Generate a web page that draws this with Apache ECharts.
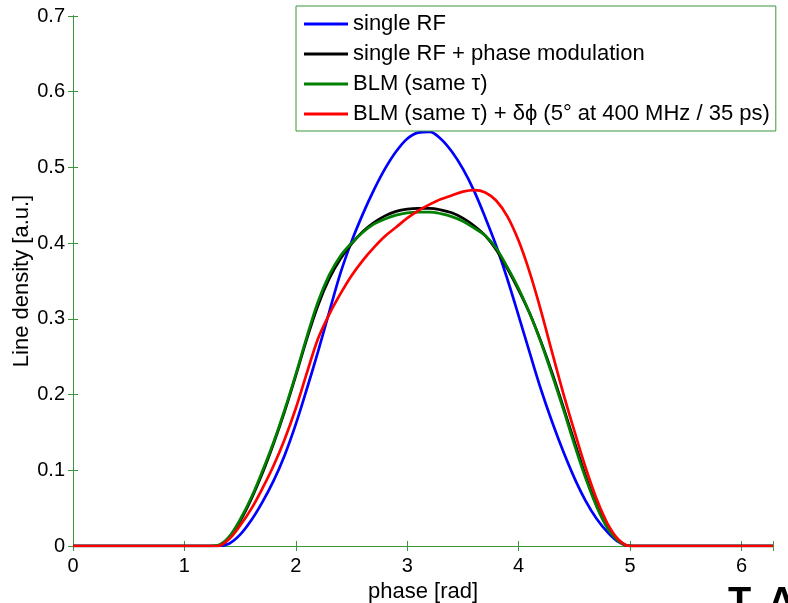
<!DOCTYPE html>
<html>
<head>
<meta charset="utf-8">
<script src="https://cdn.jsdelivr.net/npm/echarts@6/dist/echarts.min.js"></script>
<style>
html,body{margin:0;padding:0;background:#fff;}
#chart{width:788px;height:603px;}
</style>
</head>
<body>
<div id="chart"></div>
<script>
// ---- data ----
var phase = [0, 1.2, 1.3, 1.4, 1.5, 1.6, 1.7, 1.8, 1.9, 2.0, 2.1, 2.2, 2.3, 2.4, 2.5, 2.6, 2.7, 2.8, 2.9,
  3.0, 3.1, 3.2, 3.3, 3.4, 3.5, 3.6, 3.7, 3.8, 3.9, 4.0, 4.1, 4.2, 4.3, 4.4, 4.5, 4.6, 4.7, 4.8, 4.9, 5.0, 5.1, 6.2832];

var singleRF = [0, 0, 0, 0.003, 0.015, 0.034, 0.058, 0.086, 0.120, 0.161, 0.208, 0.257, 0.309, 0.360, 0.402,
  0.438, 0.470, 0.498, 0.521, 0.538, 0.546, 0.547, 0.538, 0.521, 0.498, 0.469, 0.434, 0.396, 0.352, 0.304,
  0.255, 0.207, 0.164, 0.125, 0.090, 0.060, 0.036, 0.018, 0.005, 0, 0, 0];

var singleRFPhaseMod = [0, 0, 0, 0.011, 0.033, 0.062, 0.096, 0.135, 0.178, 0.225, 0.274, 0.318, 0.353, 0.379,
  0.399, 0.415, 0.427, 0.436, 0.442, 0.445, 0.446, 0.446, 0.444, 0.440, 0.433, 0.423, 0.410, 0.391, 0.366,
  0.338, 0.307, 0.270, 0.229, 0.184, 0.138, 0.093, 0.054, 0.025, 0.007, 0, 0, 0];

var blmSameTau = [0, 0, 0.001, 0.012, 0.035, 0.064, 0.099, 0.137, 0.180, 0.227, 0.277, 0.323, 0.358, 0.383,
  0.400, 0.414, 0.425, 0.432, 0.437, 0.440, 0.441, 0.441, 0.439, 0.435, 0.429, 0.420, 0.410, 0.393, 0.368,
  0.340, 0.307, 0.269, 0.226, 0.181, 0.134, 0.090, 0.052, 0.023, 0.006, 0, 0, 0];

var blmSameTauDphi = [0, 0, 0, 0.009, 0.027, 0.049, 0.076, 0.106, 0.141, 0.182, 0.229, 0.274, 0.306, 0.333,
  0.357, 0.377, 0.394, 0.409, 0.421, 0.433, 0.443, 0.451, 0.458, 0.463, 0.468, 0.470, 0.467, 0.456, 0.435,
  0.403, 0.361, 0.311, 0.256, 0.202, 0.152, 0.104, 0.062, 0.029, 0.008, 0, 0, 0];

var seriesNames = ['single RF', 'single RF + phase modulation', 'BLM (same \u03c4)',
  'BLM (same \u03c4) + \u03b4\u03d5 (5\u00b0 at 400 MHz / 35 ps)'];
var seriesColors = ['#0000ff', '#000000', '#008000', '#ff0000'];
var xTicks = [0, 1, 2, 3, 4, 5, 6];

// ---- build chart ----
function pairs(ys) { return phase.map(function (x, i) { return [x, ys[i]]; }); }
var allY = [singleRF, singleRFPhaseMod, blmSameTau, blmSameTauDphi];

var frame = '#3c963c';
var font = 'Arial, "Liberation Sans", sans-serif';

var chart = echarts.init(document.getElementById('chart'), null, {renderer: 'canvas'});
chart.setOption({
  animation: false,
  backgroundColor: '#fff',
  grid: {left: 73, right: 15, top: 16, bottom: 57, containLabel: false, outerBoundsMode: 'none'},
  legend: {
    orient: 'vertical',
    left: 296, top: 6,
    padding: [7, 6, 6, 8],
    icon: 'rect',
    itemWidth: 44, itemHeight: 3, itemGap: 8,
    backgroundColor: '#fff',
    borderColor: frame, borderWidth: 1,
    textStyle: {fontSize: 22, fontFamily: font, color: '#000', lineHeight: 22},
    data: seriesNames.map(function (n, i) { return {name: n, itemStyle: {color: seriesColors[i]}}; })
  },
  xAxis: [{
    type: 'value', min: 0, max: 6.2832, interval: 1, position: 'bottom',
    name: 'phase [rad]', nameLocation: 'middle', nameGap: 32,
    nameTextStyle: {fontSize: 22, fontFamily: font, color: '#000'},
    axisLine: {show: true, lineStyle: {color: frame, width: 1}},
    axisTick: {show: true, inside: true, length: 5, lineStyle: {color: frame}},
    axisLabel: {fontSize: 20, fontFamily: font, color: '#000', margin: 10,
      formatter: function (v) { return xTicks.indexOf(v) >= 0 ? String(v) : ''; }},
    splitLine: {show: false}
  }, {
    type: 'value', min: 0, max: 6.2832, interval: 1, position: 'top',
    axisLine: {show: true, lineStyle: {color: frame, width: 1}},
    axisTick: {show: true, inside: true, length: 5, lineStyle: {color: frame}},
    axisLabel: {show: false}, splitLine: {show: false}
  }],
  yAxis: [{
    type: 'value', min: 0, max: 0.7, interval: 0.1, position: 'left',
    name: 'Line density [a.u.]', nameLocation: 'middle', nameGap: 40, nameMoveOverlap: false,
    nameTextStyle: {fontSize: 22, fontFamily: font, color: '#000'},
    axisLine: {show: true, lineStyle: {color: '#000', width: 1}},
    axisTick: {show: true, inside: true, length: 5, lineStyle: {color: frame}},
    axisLabel: {fontSize: 20, fontFamily: font, color: '#000', margin: 8},
    splitLine: {show: false}
  }, {
    type: 'value', min: 0, max: 0.7, interval: 0.1, position: 'right',
    axisLine: {show: true, lineStyle: {color: frame, width: 1}},
    axisTick: {show: true, inside: true, length: 5, lineStyle: {color: frame}},
    axisLabel: {show: false}, splitLine: {show: false}
  }],
  series: seriesNames.map(function (n, i) {
    return {
      name: n, type: 'line', xAxisIndex: 0, yAxisIndex: 0,
      data: pairs(allY[i]),
      symbol: 'none', smooth: 0.35, clip: true,
      lineStyle: {color: seriesColors[i], width: 2.7},
      itemStyle: {color: seriesColors[i]},
      z: 2 + i
    };
  }),
  graphic: [{
    type: 'text', left: 728, top: 585,
    style: {text: 'T. Argyropoulos', font: 'bold 38px Arial, "Liberation Sans", sans-serif', fill: '#000'}
  }]
});
</script>
</body>
</html>
